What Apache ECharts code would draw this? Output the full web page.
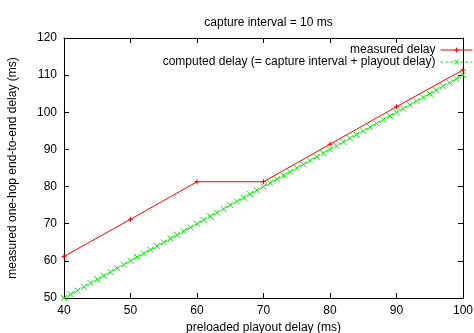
<!DOCTYPE html>
<html><head><meta charset="utf-8">
<script src="https://cdn.jsdelivr.net/npm/echarts@6/dist/echarts.min.js"></script>
<style>html,body{margin:0;padding:0;background:#fff}#c{width:474px;height:333px}</style>
</head><body><div id="c"></div>
<script>
var titleText = 'capture interval = 10 ms';
var xName = 'preloaded playout delay (ms)';
var yName = 'measured one-hop end-to-end delay (ms)';
var measuredName = 'measured delay';
var computedName = 'computed delay (= capture interval + playout delay)';
var measuredX = [40, 50, 60, 70, 80, 90, 100];
var measuredY = [61.2, 71.2, 81.3, 81.3, 91.4, 101.5, 111.4];
var computedX = [40,41,42,43,44,45,46,47,48,49,50,51,52,53,54,55,56,57,58,59,60,61,62,63,64,65,66,67,68,69,70,71,72,73,74,75,76,77,78,79,80,81,82,83,84,85,86,87,88,89,90,91,92,93,94,95,96,97,98,99,100];
var computedY = [50,51,52,53,54,55,56,57,58,59,60,61,62,63,64,65,66,67,68,69,70,71,72,73,74,75,76,77,78,79,80,81,82,83,84,85,86,87,88,89,90,91,92,93,94,95,96,97,98,99,100,101,102,103,104,105,106,107,108,109,110];

var font = 'Liberation Sans, Arial, Helvetica, sans-serif';
function pairs(xs, ys){ return xs.map(function(x,i){ return [x, ys[i]]; }); }
var plusPath = 'path://M5,0L5,10M0,5L10,5';
var crossPath = 'path://M0,0L10,10M10,0L0,10';

var chart = echarts.init(document.getElementById('c'), null, {renderer:'canvas'});
var axisCommon = {
  axisLine: {show: true, onZero: false, lineStyle: {color: '#000', width: 1}},
  axisTick: {show: true, inside: true, length: 5, lineStyle: {color: '#000'}},
  splitLine: {show: false}
};
chart.setOption({
  animation: false,
  backgroundColor: '#fff',
  title: {text: titleText, left: 263.5, top: 12, textAlign: 'center',
    textStyle: {fontFamily: font, fontSize: 12, fontWeight: 'normal', color: '#000'}},
  grid: {left: 64, right: 11, top: 38, bottom: 35, containLabel: false, outerBoundsMode: 'none'},
  legend: {
    orient: 'vertical', right: -4, top: 39, align: 'right',
    itemWidth: 32, itemHeight: 6, itemGap: 0,
    lineStyle: {width: 1},
    itemStyle: {borderWidth: 1},
    textStyle: {fontFamily: font, fontSize: 12, color: '#000'},
    data: [measuredName, computedName]
  },
  xAxis: [
    Object.assign({type: 'value', min: 40, max: 100, interval: 10, position: 'bottom',
      name: xName, nameLocation: 'middle', nameGap: 21,
      nameTextStyle: {fontFamily: font, fontSize: 12, color: '#000'},
      axisLabel: {fontFamily: font, fontSize: 12, color: '#000', margin: 7}}, axisCommon),
    Object.assign({type: 'value', min: 40, max: 100, interval: 10, position: 'top',
      axisLabel: {show: false}}, axisCommon)
  ],
  yAxis: [
    Object.assign({type: 'value', min: 50, max: 120, interval: 10, position: 'left',
      name: yName, nameLocation: 'middle', nameGap: 45,
      nameTextStyle: {fontFamily: font, fontSize: 12, color: '#000'},
      axisLabel: {fontFamily: font, fontSize: 12, color: '#000', margin: 7}}, axisCommon),
    Object.assign({type: 'value', min: 50, max: 120, interval: 10, position: 'right',
      axisLabel: {show: false}}, axisCommon)
  ],
  series: [
    {name: measuredName, type: 'line', data: pairs(measuredX, measuredY),
      symbol: plusPath, symbolSize: 5, showSymbol: true,
      lineStyle: {color: '#ff0000', width: 1},
      itemStyle: {color: '#ff0000', borderColor: '#ff0000', borderWidth: 1}, z: 3},
    {name: computedName, type: 'line', data: pairs(computedX, computedY),
      symbol: crossPath, symbolSize: 6, showSymbol: true,
      lineStyle: {color: '#00ee00', width: 1, type: [3, 2]},
      itemStyle: {color: '#00ee00', borderColor: '#00ee00', borderWidth: 1}, z: 2}
  ]
});
</script></body></html>
